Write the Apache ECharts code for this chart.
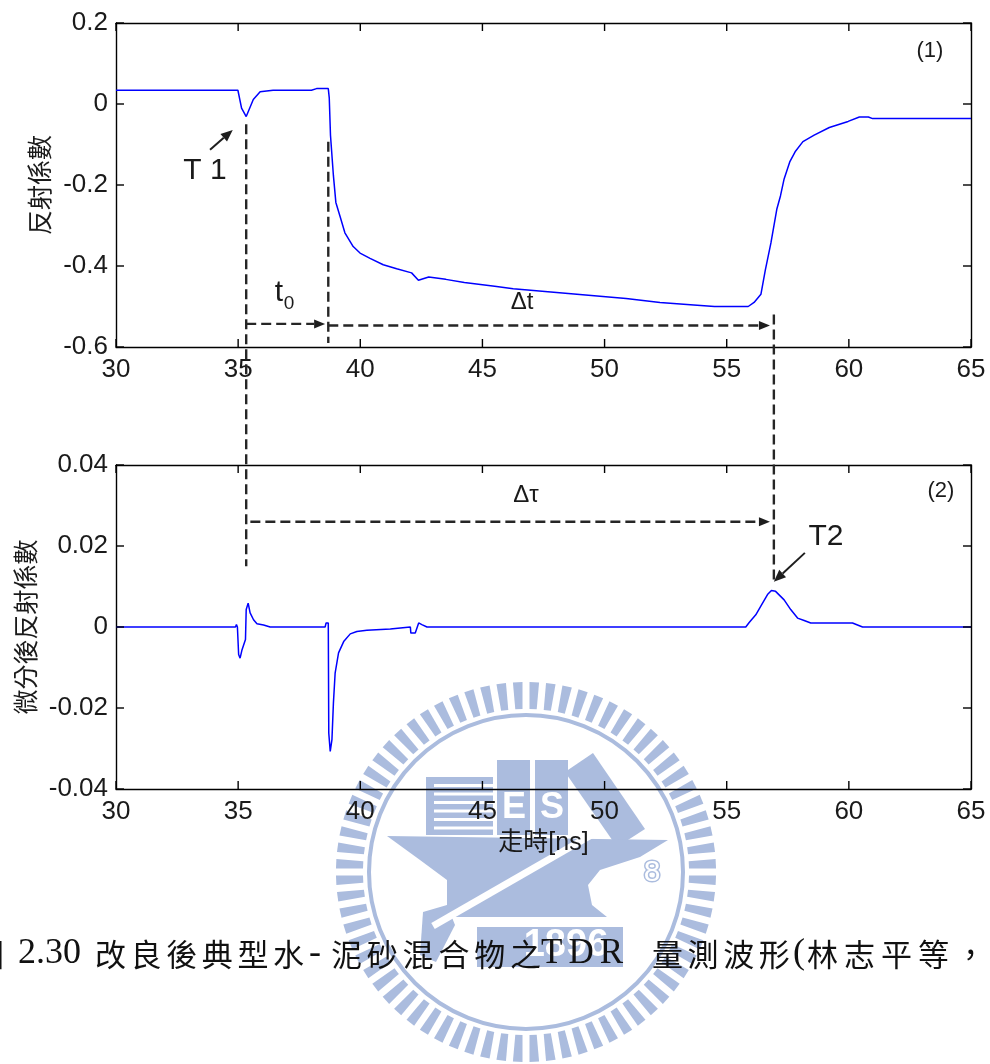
<!DOCTYPE html>
<html>
<head>
<meta charset="utf-8">
<title>TDR 量測波形</title>
<script src="https://cdn.jsdelivr.net/npm/echarts@6/dist/echarts.min.js"></script>
<style>
  html, body { margin: 0; padding: 0; background: #fff; }
  #chart { width: 990px; height: 1064px; }
</style>
</head>
<body>
<div id="chart"></div>
<script>
// ---------------- data ----------------
// Panel (1): reflection coefficient vs travel time [ns]
const timeNs = [30, 34.99, 35.14, 35.33, 35.42, 35.62, 35.9, 36.43, 38.0, 38.21, 38.69, 38.73, 38.78, 38.9, 39.0,
  39.17, 39.37, 39.71, 39.99, 40.4, 40.94, 41.49, 42.1, 42.38, 42.8, 43.5, 44.26, 45.5, 46.26, 47.8, 49.34,
  50.88, 52.27, 53.65, 54.5, 55.88, 56.12, 56.4, 56.58, 56.81, 57.05, 57.2, 57.35, 57.58, 57.8, 58.12, 58.58,
  59.2, 59.97, 60.43, 60.8, 60.97, 65];
const reflCoef = [0.034, 0.034, -0.010, -0.031, -0.018, 0.011, 0.030, 0.034, 0.034, 0.038, 0.038, 0.015, -0.077,
  -0.177, -0.243, -0.277, -0.318, -0.352, -0.368, -0.381, -0.397, -0.407, -0.417, -0.435, -0.427, -0.433, -0.441,
  -0.450, -0.456, -0.464, -0.472, -0.480, -0.490, -0.496, -0.500, -0.500, -0.490, -0.470, -0.410, -0.343, -0.260,
  -0.227, -0.185, -0.143, -0.118, -0.093, -0.077, -0.058, -0.043, -0.032, -0.032, -0.036, -0.036];

// Panel (2): differentiated reflection coefficient
const timeNsDiff = [30, 34.89, 34.93, 34.97, 35.02, 35.08, 35.16, 35.30, 35.33, 35.41, 35.49, 35.63, 35.77, 36.04,
  36.31, 38.56, 38.60, 38.69, 38.71, 38.77, 38.84, 38.90, 38.97, 39.11, 39.32, 39.59, 39.86, 40.27, 41.23, 42.05,
  42.07, 42.25, 42.39, 42.52, 42.73, 55.78, 55.92, 56.19, 56.39, 56.67, 56.83, 57.00, 57.35, 57.62, 57.90, 58.17,
  58.44, 60.15, 60.56, 65];
const reflDiff = [0, 0, 0.0006, 0, -0.0068, -0.0077, -0.0056, -0.0031, 0.0043, 0.0059, 0.0035, 0.0018, 0.0008,
  0.0005, 0, 0, 0.001, 0.001, -0.0262, -0.0307, -0.0278, -0.0188, -0.0114, -0.0064, -0.0036, -0.0017, -0.0011,
  -0.0008, -0.0005, 0, -0.0015, -0.0015, 0.001, 0.0006, 0, 0, 0.0011, 0.003, 0.0051, 0.008, 0.009, 0.0088,
  0.0067, 0.0043, 0.0022, 0.0016, 0.001, 0.001, 0, 0];

// axis ranges and tick positions
const xRange = [30, 65], xStep = 5;
const y1Range = [-0.6, 0.2], y1Step = 0.2;
const y2Range = [-0.04, 0.04], y2Step = 0.02;
const xTickValues = [30, 35, 40, 45, 50, 55, 60, 65];
const y1TickValues = [-0.6, -0.4, -0.2, 0, 0.2];
const y2TickValues = [-0.04, -0.02, 0, 0.02, 0.04];

// texts
const yTitle1 = '反射係數';
const yTitle2 = '微分後反射係數';
const xTitle = '走時[ns]';
const panelTags = ['(1)', '(2)'];

// characteristic times [ns]
const tT1 = 35.33;    // first reflection (T1)
const tStep = 38.69;  // end of t0
const tT2 = 56.93;    // second reflection (T2)

// ---------------- chart ----------------
const LATIN = '"Liberation Sans", Arial, sans-serif';
const CJK = '"Noto Sans CJK TC", sans-serif';
const MIXED = '"Liberation Sans", "Noto Sans CJK TC", sans-serif';
const INK = '#1a1a1a';

const zip = (a, b) => a.map((v, i) => [v, b[i]]);
const fmt = v => String(+v.toFixed(3));

const frame = { show: true, onZero: false, lineStyle: { color: '#000', width: 1.4 } };
const label = { show: true, fontFamily: LATIN, fontSize: 26, color: INK, margin: 10, formatter: fmt };

function xAxisDef(grid, pos, withLabels, name) {
  return {
    type: 'value', gridIndex: grid, position: pos, min: xRange[0], max: xRange[1], interval: xStep,
    axisLine: frame, axisTick: { show: false }, splitLine: { show: false },
    axisLabel: withLabels ? label : { show: false },
    name: name || '', nameLocation: 'middle', nameGap: 42,
    nameTextStyle: { fontFamily: MIXED, fontSize: 25, color: INK }
  };
}
function yAxisDef(grid, pos, range, step, withLabels, name, gap) {
  return {
    type: 'value', gridIndex: grid, position: pos, min: range[0], max: range[1], interval: step,
    axisLine: frame, axisTick: { show: false }, splitLine: { show: false },
    axisLabel: withLabels ? Object.assign({}, label, { margin: 8 }) : { show: false },
    name: name || '', nameLocation: 'middle', nameRotate: 90, nameGap: gap || 0,
    nameTextStyle: { fontFamily: CJK, fontSize: 25, color: INK }
  };
}

const option = {
  animation: false,
  backgroundColor: '#fff',
  grid: [
    { left: 116, top: 23, width: 855, height: 324 },
    { left: 116, top: 465, width: 855, height: 324 }
  ],
  xAxis: [
    xAxisDef(0, 'bottom', true),
    xAxisDef(0, 'top', false),
    xAxisDef(1, 'bottom', true, xTitle),
    xAxisDef(1, 'top', false)
  ],
  yAxis: [
    yAxisDef(0, 'left', y1Range, y1Step, true, yTitle1, 60),
    yAxisDef(0, 'right', y1Range, y1Step, false),
    yAxisDef(1, 'left', y2Range, y2Step, true, yTitle2, 78),
    yAxisDef(1, 'right', y2Range, y2Step, false)
  ],
  series: [
    { type: 'line', xAxisIndex: 0, yAxisIndex: 0, data: zip(timeNs, reflCoef), showSymbol: false,
      lineStyle: { color: '#0000ff', width: 1.5 }, z: 5 },
    { type: 'line', xAxisIndex: 2, yAxisIndex: 2, data: zip(timeNsDiff, reflDiff), showSymbol: false,
      lineStyle: { color: '#0000ff', width: 1.5 }, z: 5 }
  ]
};

const chart = echarts.init(document.getElementById('chart'), null, { renderer: 'canvas' });
chart.setOption(option);

// ---------------- annotations ----------------
const p1 = (t, v) => chart.convertToPixel({ gridIndex: 0 }, [t, v]);
const p2 = (t, v) => chart.convertToPixel({ gridIndex: 1 }, [t, v]);

const els = [];

// inward tick marks on all four sides of each panel
const TICK_LEN = 8;
function seg(a, b, stroke, width, z) {
  els.push({ type: 'line', z: z, silent: true,
    shape: { x1: a[0], y1: a[1], x2: b[0], y2: b[1] }, style: { stroke: stroke, lineWidth: width } });
}
[[p1, y1Range, y1TickValues], [p2, y2Range, y2TickValues]].forEach(([P, yr, yTicks]) => {
  xTickValues.forEach(t => {
    const lo = P(t, yr[0]), hi = P(t, yr[1]);
    seg(lo, [lo[0], lo[1] - TICK_LEN], '#000', 1.4, 20);
    seg(hi, [hi[0], hi[1] + TICK_LEN], '#000', 1.4, 20);
  });
  yTicks.forEach(v => {
    const l = P(xRange[0], v), r = P(xRange[1], v);
    seg(l, [l[0] + TICK_LEN, l[1]], '#000', 1.4, 20);
    seg(r, [r[0] - TICK_LEN, r[1]], '#000', 1.4, 20);
  });
});

const DASH = { stroke: '#262626', lineWidth: 2.4, lineDash: [10, 5] };
function dashed(a, b) {
  els.push({ type: 'line', z: 100, silent: true,
    shape: { x1: a[0], y1: a[1], x2: b[0], y2: b[1] }, style: Object.assign({}, DASH) });
}
function head(tip, from, len, hw) {
  const dx = tip[0] - from[0], dy = tip[1] - from[1], L = Math.hypot(dx, dy);
  const ux = dx / L, uy = dy / L, bx = tip[0] - ux * len, by = tip[1] - uy * len;
  els.push({ type: 'polygon', z: 101, silent: true,
    shape: { points: [tip, [bx - uy * hw, by + ux * hw], [bx + uy * hw, by - ux * hw]] },
    style: { fill: '#1e1e1e' } });
  return [bx, by];
}
function dashedArrow(a, tip) {
  const base = head(tip, a, 11, 4.5);
  dashed(a, base);
}
function solidArrow(a, tip) {
  const base = head(tip, a, 12, 5);
  seg(a, base, '#1e1e1e', 2, 100);
}
function text(str, pt, font, align) {
  els.push({ type: 'text', z: 102, silent: true,
    style: { text: str, x: pt[0], y: pt[1], font: font, fill: INK,
      textAlign: align || 'center', textVerticalAlign: 'middle' } });
}

// vertical guide lines
dashed(p1(tT1, -0.05), p2(tT1, 0.015));
dashed(p1(tStep, -0.093), p1(tStep, -0.59));
dashed(p1(tT2, -0.52), p2(tT2, 0.011));

// t0, Δt, Δτ arrows
dashedArrow(p1(tT1, -0.543), p1(tStep - 0.13, -0.543));
dashedArrow(p1(tStep, -0.547), p1(tT2 - 0.16, -0.547));
dashedArrow(p2(tT1 + 0.17, 0.026), p2(tT2 - 0.16, 0.026));

// T1 / T2 pointers
solidArrow(p1(33.85, -0.113), p1(34.78, -0.064));
solidArrow(p2(58.2, 0.0183), p2(tT2, 0.0112));

text('T 1', p1(33.64, -0.166), '30px ' + LATIN);
text('T2', p2(59.06, 0.0223), '30px ' + LATIN);
text('t', p1(36.67, -0.466), '30px ' + LATIN);
text('0', p1(37.08, -0.493), '19px ' + LATIN);
text('Δt', p1(46.62, -0.491), '24px ' + LATIN);
text('Δτ', p2(46.78, 0.0326), '24px ' + LATIN);
text(panelTags[0], p1(63.32, 0.132), '22px ' + LATIN);
text(panelTags[1], p2(63.77, 0.0336), '22px ' + LATIN);

// ---------------- background emblem ----------------
const WM = '#abbcde';
(function emblem() {
  const cx = 526, cy = 872, n = 72, r0 = 163, r1 = 190;
  const add = e => { e.z = -10; e.silent = true; els.push(e); };
  for (let i = 0; i < n; i++) {
    const a = (i + 0.5) / n * Math.PI * 2;
    const ux = Math.cos(a), uy = Math.sin(a), px = -uy, py = ux;
    add({ type: 'polygon', shape: { points: [
      [cx + ux * r0 + px * 3.6, cy + uy * r0 + py * 3.6], [cx + ux * r1 + px * 4.8, cy + uy * r1 + py * 4.8],
      [cx + ux * r1 - px * 4.8, cy + uy * r1 - py * 4.8], [cx + ux * r0 - px * 3.6, cy + uy * r0 - py * 3.6]] },
      style: { fill: WM } });
  }
  add({ type: 'circle', shape: { cx: cx, cy: cy, r: 157 }, style: { fill: 'none', stroke: WM, lineWidth: 4 } });
  // striped book block
  add({ type: 'rect', shape: { x: 426, y: 777, width: 67, height: 58 }, style: { fill: WM } });
  for (let k = 0; k < 6; k++) {
    add({ type: 'rect', shape: { x: 434, y: 784 + k * 8.5, width: 59, height: 3 }, style: { fill: '#fff' } });
  }
  // lettered blocks
  add({ type: 'rect', shape: { x: 497, y: 760, width: 33, height: 75 }, style: { fill: WM } });
  add({ type: 'rect', shape: { x: 535, y: 760, width: 33, height: 75 }, style: { fill: WM } });
  add({ type: 'text', style: { text: 'E', x: 514, y: 808, font: 'bold 36px ' + LATIN, fill: '#fff',
    textAlign: 'center', textVerticalAlign: 'middle' } });
  add({ type: 'text', style: { text: 'S', x: 552, y: 808, font: 'bold 36px ' + LATIN, fill: '#fff',
    textAlign: 'center', textVerticalAlign: 'middle' } });
  add({ type: 'polygon', shape: { points: [[565, 772], [593, 753], [645, 829], [617, 847]] }, style: { fill: WM } });
  // anvil
  add({ type: 'polygon', shape: { points: [
    [387, 836], [668, 840], [640, 857], [600, 870], [588, 885], [592, 905], [607, 917],
    [440, 917], [447, 905], [447, 880], [420, 860]] }, style: { fill: WM } });
  add({ type: 'polygon', shape: { points: [[423, 912], [447, 905], [455, 925], [436, 962], [420, 955]] },
    style: { fill: WM } });
  add({ type: 'line', shape: { x1: 433, y1: 926, x2: 600, y2: 830 }, style: { stroke: '#fff', lineWidth: 7 } });
  add({ type: 'text', style: { text: '8', x: 652, y: 873, font: '30px ' + LATIN, fill: '#fff', stroke: WM,
    lineWidth: 3, textAlign: 'center', textVerticalAlign: 'middle' } });
  // year plate
  add({ type: 'rect', shape: { x: 477, y: 927, width: 146, height: 40 }, style: { fill: WM } });
  add({ type: 'text', style: { text: '1896', x: 566, y: 946, font: 'bold 38px ' + LATIN, fill: '#fff',
    textAlign: 'center', textVerticalAlign: 'middle' } });
})();

// ---------------- figure caption ----------------
const SERIF = '"Liberation Serif", "Times New Roman", serif';
const CAPJK = '"Noto Sans CJK TC", sans-serif';
const captionRuns = [
  ['圖', -27, '31px ' + CAPJK, 0],
  ['2.30', 18, '36px ' + SERIF, 0],
  ['改良後典型水', 95, '31px ' + CAPJK, 4.6],
  ['-', 309, '36px ' + SERIF, 0],
  ['泥砂混合物之', 331, '31px ' + CAPJK, 4.8],
  ['TDR', 541, '35px ' + SERIF, 6],
  ['量測波形', 652, '31px ' + CAPJK, 4.6],
  ['(', 793, '36px ' + SERIF, 0],
  ['林志平等，', 807, '31px ' + CAPJK, 6]
];
const mctx = document.createElement('canvas').getContext('2d');
captionRuns.forEach(([str, x0, font, gap]) => {
  mctx.font = font;
  let x = x0;
  for (const ch of str) {
    els.push({ type: 'text', z: -5, silent: true,
      style: { text: ch, x: x, y: 954, font: font, fill: '#111', textAlign: 'left', textVerticalAlign: 'middle' } });
    x += mctx.measureText(ch).width + gap;
  }
});

chart.setOption({ graphic: { elements: els } });
</script>
</body>
</html>
